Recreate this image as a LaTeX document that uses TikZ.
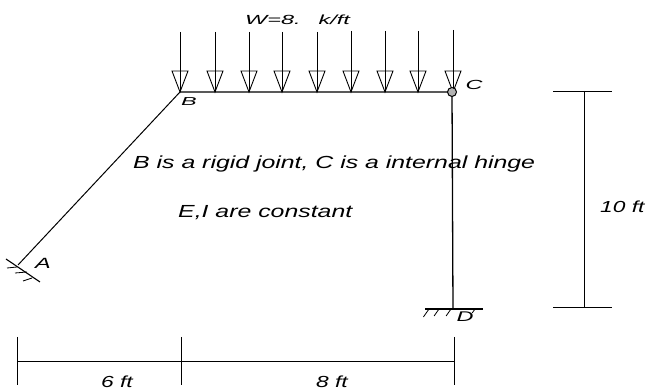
\documentclass[tikz,border=0pt]{standalone}
\usepackage{fontspec}
\setmainfont{Liberation Sans}[FakeStretch=1.42]
\tikzset{
  member/.style={line width=1.3pt,black},
  thinline/.style={line width=0.8pt,black},
  dimline/.style={line width=0.9pt,black},
  loadline/.style={line width=0.8pt,black},
  loadhead/.style={line width=0.9pt,black},
  lab/.style={font=\fontsize{17.5}{19}\selectfont\itshape,inner sep=0pt,text=black},
  dimlab/.style={font=\fontsize{16}{18}\selectfont\itshape,inner sep=0pt,text=black},
  sm/.style={font=\fontsize{16.5}{18}\selectfont\itshape,inner sep=0pt,text=black}
}
\begin{document}
\begin{tikzpicture}[x=1pt,y=-1pt]
\useasboundingbox (0,0) rectangle (646,390);
% joints
\coordinate (A) at (18,265);
\coordinate (B) at (180,92);
\coordinate (C) at (452,92);
\coordinate (D) at (453,309);
\draw[member,line width=1pt] (A) -- (B);
\draw[member] (B) -- (C) -- (D);
% loads
\foreach \i/\x/\y in {1/180/32,2/215/32,3/249/32,4/282/32,5/317/32,6/351/31,7/385/31,8/418/31,9/453/30}{
  \coordinate (t\i) at (\x,\y);
  \coordinate (b\i) at (\x,92);
  \draw[loadline] (t\i) -- (b\i);
  \draw[loadhead] (b\i) -- ++(-8,-21) -- ++(16,0) -- cycle;
}
% hinge
\node[circle,draw,line width=1pt,minimum size=9pt,inner sep=0pt,fill=gray!60] (hinge) at (C) {};
% support A
\coordinate (a1) at (6,259);
\coordinate (a2) at (40,282);
\draw[thinline,line width=1.1pt] (a1) -- (a2);
\coordinate (h1s) at (17,267); \coordinate (h1e) at (7,268);
\coordinate (h2s) at (27,272); \coordinate (h2e) at (15,273);
\coordinate (h3s) at (32,278); \coordinate (h3e) at (23,281);
\draw[thinline] (h1s) -- (h1e) (h2s) -- (h2e) (h3s) -- (h3e);
% support D
\coordinate (d1) at (425,309);
\coordinate (d2) at (483,309);
\draw[thinline,line width=1.1pt] (d1) -- (d2);
\foreach \x/\len in {429/8,439/7,451/7,475/4}{
  \coordinate (p) at (\x,309);
  \draw[thinline] (p) -- ++(-0.7*\len,\len);
}
% dimension right
\coordinate (r1) at (553,91); \coordinate (r2) at (612,91);
\coordinate (r3) at (553,307); \coordinate (r4) at (612,307);
\coordinate (r5) at (584,91); \coordinate (r6) at (584,307);
\draw[dimline] (r1) -- (r2);
\draw[dimline] (r3) -- (r4);
\draw[dimline] (r5) -- (r6);
% dimension bottom
\coordinate (g1) at (17,337); \coordinate (g2) at (17,385);
\coordinate (g3) at (181,337); \coordinate (g4) at (181,385);
\coordinate (g5) at (454,337); \coordinate (g6) at (454,385);
\coordinate (g7) at (17,361); \coordinate (g8) at (454,361);
\draw[dimline] (g1) -- (g2);
\draw[dimline] (g3) -- (g4);
\draw[dimline] (g5) -- (g6);
\draw[dimline] (g7) -- (g8);
% labels
\node[sm,anchor=west] (ttl) at (245,20) {\scalebox{1}[0.8]{W=8.\hspace{18pt}k/ft}};
\node[sm] (lb) at (189,102) {\scalebox{1}[0.7]{B}};
\node[sm] (lc) at (474,85) {\scalebox{1}[0.8]{C}};
\node[sm] (la) at (43,263) {\scalebox{1}[0.9]{A}};
\node[sm] (ld) at (465,317) {\scalebox{1}[0.85]{D}};
\node[lab,anchor=west] (t1) at (133,163.5) {B is a rigid joint, C is a internal hinge};
\node[lab,anchor=west] (t2) at (178,213) {E,I are constant};
\node[dimlab,anchor=west] (t3) at (600,207) {10 ft};
\node[dimlab] (t4) at (117,382) {6 ft};
\node[dimlab] (t5) at (332,382) {8 ft};
\end{tikzpicture}
\end{document}
